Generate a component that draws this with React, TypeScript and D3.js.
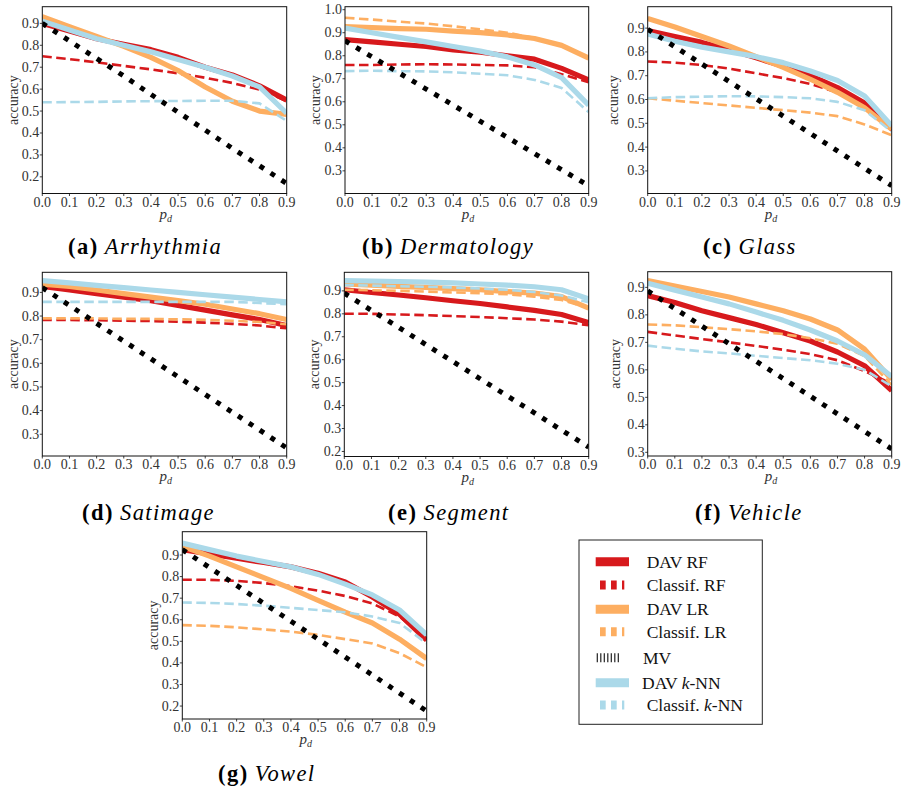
import React from "react";
import * as d3 from "d3";

// ---------- data ----------
const pd = [0, 0.1, 0.2, 0.3, 0.4, 0.5, 0.6, 0.7, 0.8, 0.9];

const arrDavRF = [0.9, 0.865, 0.83, 0.805, 0.78, 0.745, 0.7, 0.665, 0.615, 0.55];
const arrClsRF = [0.75, 0.737, 0.722, 0.706, 0.69, 0.672, 0.652, 0.628, 0.598, 0.545];
const arrDavLR = [0.93, 0.885, 0.84, 0.795, 0.745, 0.685, 0.61, 0.545, 0.5, 0.485];
const arrDavKNN = [0.91, 0.87, 0.83, 0.8, 0.77, 0.735, 0.7, 0.66, 0.61, 0.49];
const arrClsKNN = [0.54, 0.541, 0.542, 0.544, 0.545, 0.546, 0.547, 0.547, 0.535, 0.455];
const arrMV = [0.9, 0.82, 0.74, 0.66, 0.576, 0.495, 0.413, 0.33, 0.25, 0.17];

const derDavRF = [0.87, 0.86, 0.85, 0.84, 0.825, 0.815, 0.8, 0.785, 0.745, 0.695];
const derClsRF = [0.76, 0.76, 0.762, 0.763, 0.762, 0.76, 0.758, 0.75, 0.72, 0.685];
const derDavLR = [0.927, 0.922, 0.918, 0.915, 0.907, 0.9, 0.89, 0.875, 0.845, 0.79];
const derClsLR = [0.965, 0.957, 0.948, 0.94, 0.928, 0.915, 0.9, 0.877, 0.845, 0.79];
const derDavKNN = [0.92, 0.9, 0.88, 0.86, 0.84, 0.82, 0.795, 0.76, 0.705, 0.585];
const derClsKNN = [0.733, 0.735, 0.733, 0.732, 0.728, 0.722, 0.715, 0.695, 0.66, 0.555];
const derMV = [0.865, 0.795, 0.725, 0.655, 0.585, 0.515, 0.445, 0.375, 0.305, 0.235];

const glaDavRF = [0.89, 0.865, 0.84, 0.81, 0.775, 0.74, 0.7, 0.65, 0.585, 0.48];
const glaClsRF = [0.76, 0.755, 0.745, 0.73, 0.71, 0.69, 0.665, 0.63, 0.575, 0.47];
const glaDavLR = [0.94, 0.905, 0.865, 0.825, 0.78, 0.735, 0.685, 0.63, 0.565, 0.475];
const glaClsLR = [0.605, 0.595, 0.585, 0.575, 0.565, 0.555, 0.545, 0.53, 0.495, 0.45];
const glaDavKNN = [0.875, 0.845, 0.82, 0.8, 0.78, 0.755, 0.72, 0.68, 0.615, 0.49];
const glaClsKNN = [0.605, 0.61, 0.612, 0.614, 0.613, 0.61, 0.605, 0.59, 0.555, 0.465];
const glaMV = [0.895, 0.822, 0.749, 0.676, 0.603, 0.53, 0.457, 0.384, 0.311, 0.238];

const satDavRF = [0.925, 0.91, 0.895, 0.88, 0.865, 0.845, 0.825, 0.805, 0.785, 0.76];
const satClsRF = [0.783, 0.783, 0.782, 0.78, 0.779, 0.776, 0.772, 0.767, 0.76, 0.748];
const satDavLR = [0.935, 0.925, 0.91, 0.895, 0.88, 0.865, 0.85, 0.83, 0.81, 0.785];
const satClsLR = [0.79, 0.79, 0.79, 0.788, 0.788, 0.786, 0.784, 0.78, 0.775, 0.765];
const satDavKNN = [0.95, 0.94, 0.93, 0.92, 0.91, 0.9, 0.89, 0.88, 0.87, 0.86];
const satClsKNN = [0.86, 0.86, 0.86, 0.86, 0.86, 0.86, 0.86, 0.86, 0.855, 0.85];
const satMV = [0.92, 0.845, 0.769, 0.694, 0.619, 0.543, 0.468, 0.393, 0.318, 0.242];

const segDavRF = [0.905, 0.893, 0.882, 0.87, 0.857, 0.845, 0.83, 0.815, 0.797, 0.762];
const segClsRF = [0.8, 0.8, 0.797, 0.794, 0.79, 0.786, 0.781, 0.775, 0.766, 0.75];
const segDavLR = [0.93, 0.925, 0.92, 0.915, 0.91, 0.905, 0.897, 0.89, 0.875, 0.825];
const segClsLR = [0.905, 0.903, 0.9, 0.897, 0.893, 0.89, 0.885, 0.875, 0.86, 0.825];
const segDavKNN = [0.945, 0.943, 0.941, 0.938, 0.935, 0.93, 0.925, 0.918, 0.905, 0.865];
const segClsKNN = [0.925, 0.923, 0.92, 0.918, 0.915, 0.91, 0.905, 0.895, 0.88, 0.85];
const segMV = [0.89, 0.815, 0.741, 0.666, 0.592, 0.517, 0.442, 0.368, 0.293, 0.219];

const vehDavRF = [0.87, 0.845, 0.815, 0.79, 0.765, 0.735, 0.705, 0.665, 0.615, 0.525];
const vehClsRF = [0.738, 0.725, 0.712, 0.7, 0.687, 0.673, 0.657, 0.635, 0.595, 0.55];
const vehDavLR = [0.925, 0.905, 0.885, 0.865, 0.84, 0.815, 0.785, 0.745, 0.675, 0.565];
const vehClsLR = [0.765, 0.762, 0.755, 0.748, 0.74, 0.73, 0.715, 0.695, 0.65, 0.545];
const vehDavKNN = [0.915, 0.89, 0.865, 0.84, 0.81, 0.78, 0.745, 0.705, 0.655, 0.575];
const vehClsKNN = [0.688, 0.677, 0.667, 0.66, 0.651, 0.643, 0.635, 0.622, 0.6, 0.54];
const vehMV = [0.887, 0.823, 0.759, 0.695, 0.631, 0.568, 0.504, 0.44, 0.376, 0.312];

const vowDavRF = [0.925, 0.905, 0.885, 0.865, 0.845, 0.815, 0.775, 0.705, 0.625, 0.505];
const vowClsRF = [0.785, 0.785, 0.78, 0.77, 0.755, 0.735, 0.71, 0.675, 0.615, 0.51];
const vowDavLR = [0.94, 0.895, 0.845, 0.795, 0.745, 0.69, 0.635, 0.585, 0.51, 0.42];
const vowClsLR = [0.575, 0.572, 0.565, 0.555, 0.545, 0.53, 0.51, 0.49, 0.445, 0.38];
const vowDavKNN = [0.955, 0.925, 0.895, 0.87, 0.845, 0.81, 0.765, 0.715, 0.645, 0.53];
const vowClsKNN = [0.68, 0.678, 0.673, 0.665, 0.655, 0.645, 0.635, 0.615, 0.585, 0.49];
const vowMV = [0.925, 0.842, 0.759, 0.676, 0.593, 0.51, 0.427, 0.344, 0.26, 0.177];

const xTicks = [0, 0.1, 0.2, 0.3, 0.4, 0.5, 0.6, 0.7, 0.8, 0.9];
const legendLabels = ["DAV RF", "Classif. RF", "DAV LR", "Classif. LR", "MV", "DAV k-NN", "Classif. k-NN"];

// ---------- styles ----------
const RED = "#d7191c";
const ORANGE = "#fdae61";
const BLUE = "#abd9e9";
const SERIF = "'Liberation Serif', 'DejaVu Serif', serif";

type Series = { vals: number[] | null; color: string; kind: "dav" | "cls" | "mv" };

const makeSeries = (rf: number[], crf: number[], lr: number[], clr: number[] | null, knn: number[], cknn: number[], mv: number[]): Series[] => [
  { vals: rf, color: RED, kind: "dav" },
  { vals: crf, color: RED, kind: "cls" },
  { vals: lr, color: ORANGE, kind: "dav" },
  { vals: clr, color: ORANGE, kind: "cls" },
  { vals: knn, color: BLUE, kind: "dav" },
  { vals: cknn, color: BLUE, kind: "cls" },
  { vals: mv, color: "#000", kind: "mv" },
];

const panels = [
  { letter: "(a)", name: "Arrhythmia", series: makeSeries(arrDavRF, arrClsRF, arrDavLR, null, arrDavKNN, arrClsKNN, arrMV),
    x0: 42.3, x1: 286.7, y0: 6.7, y1: 193.5, dom: [0.124, 0.976], yt: [0.2, 0.3, 0.4, 0.5, 0.6, 0.7, 0.8, 0.9], lx: 13.5, cx: 68, cy: 254 },
  { letter: "(b)", name: "Dermatology", series: makeSeries(derDavRF, derClsRF, derDavLR, derClsLR, derDavKNN, derClsKNN, derMV),
    x0: 345, x1: 588.7, y0: 6.7, y1: 193.5, dom: [0.2016, 1.013], yt: [0.3, 0.4, 0.5, 0.6, 0.7, 0.8, 0.9, 1.0], lx: 315, cx: 362, cy: 254 },
  { letter: "(c)", name: "Glass", series: makeSeries(glaDavRF, glaClsRF, glaDavLR, glaClsLR, glaDavKNN, glaClsKNN, glaMV),
    x0: 647.7, x1: 891.7, y0: 6.7, y1: 193.5, dom: [0.205, 0.99], yt: [0.3, 0.4, 0.5, 0.6, 0.7, 0.8, 0.9], lx: 613.5, cx: 703, cy: 254 },
  { letter: "(d)", name: "Satimage", series: makeSeries(satDavRF, satClsRF, satDavLR, satClsLR, satDavKNN, satClsKNN, satMV),
    x0: 42.3, x1: 286.7, y0: 272.3, y1: 456, dom: [0.208, 0.985], yt: [0.3, 0.4, 0.5, 0.6, 0.7, 0.8, 0.9], lx: 13.5, cx: 82, cy: 520 },
  { letter: "(e)", name: "Segment", series: makeSeries(segDavRF, segClsRF, segDavLR, segClsLR, segDavKNN, segClsKNN, segMV),
    x0: 344.3, x1: 588.7, y0: 272.3, y1: 456.5, dom: [0.178, 0.981], yt: [0.2, 0.3, 0.4, 0.5, 0.6, 0.7, 0.8, 0.9], lx: 314.5, cx: 388, cy: 520 },
  { letter: "(f)", name: "Vehicle", series: makeSeries(vehDavRF, vehClsRF, vehDavLR, vehClsLR, vehDavKNN, vehClsKNN, vehMV),
    x0: 647.7, x1: 891.7, y0: 271.7, y1: 456, dom: [0.2866, 0.957], yt: [0.3, 0.4, 0.5, 0.6, 0.7, 0.8, 0.9], lx: 615, cx: 695, cy: 520 },
  { letter: "(g)", name: "Vowel", series: makeSeries(vowDavRF, vowClsRF, vowDavLR, vowClsLR, vowDavKNN, vowClsKNN, vowMV),
    x0: 182.3, x1: 426.7, y0: 531.7, y1: 719, dom: [0.14, 1.008], yt: [0.2, 0.3, 0.4, 0.5, 0.6, 0.7, 0.8, 0.9], lx: 153.5, cx: 218, cy: 781 },
];

function Panel({ p, idx }: { p: any; idx: number }) {
  const x = d3.scaleLinear().domain([0, 0.9]).range([p.x0, p.x1]);
  const y = d3.scaleLinear().domain(p.dom).range([p.y1, p.y0]);
  const line = d3.line<number>().x((_, i) => x(pd[i])).y((v) => y(v));
  const fmt = d3.format(".1f");
  const clipId = `clip-${idx}`;
  const cxm = (p.x0 + p.x1) / 2;
  const cym = (p.y0 + p.y1) / 2;
  return (
    <g>
      <defs>
        <clipPath id={clipId}>
          <rect x={p.x0} y={p.y0} width={p.x1 - p.x0} height={p.y1 - p.y0} />
        </clipPath>
      </defs>
      <g clipPath={`url(#${clipId})`}>
        {p.series.map((s: Series, i: number) =>
          s.vals ? (
            <path
              key={i}
              d={line(s.vals) || ""}
              fill="none"
              stroke={s.color}
              strokeWidth={s.kind === "dav" ? 5.2 : s.kind === "cls" ? 2.6 : 5}
              strokeDasharray={s.kind === "cls" ? "9.5,4.5" : s.kind === "mv" ? "5,8" : undefined}
              strokeLinejoin="round"
            />
          ) : null
        )}
      </g>
      <rect x={p.x0} y={p.y0} width={p.x1 - p.x0} height={p.y1 - p.y0} fill="none" stroke="#111" strokeWidth={1} />
      {xTicks.map((t) => (
        <g key={"x" + t}>
          <line x1={x(t)} x2={x(t)} y1={p.y1} y2={p.y1 + 2.5} stroke="#111" strokeWidth={0.8} />
          <text x={x(t)} y={p.y1 + 13} textAnchor="middle" fontFamily={SERIF} fontSize={14} fill="#333">
            {fmt(t)}
          </text>
        </g>
      ))}
      {p.yt.map((t: number) => (
        <g key={"y" + t}>
          <line x1={p.x0 - 2.5} x2={p.x0} y1={y(t)} y2={y(t)} stroke="#111" strokeWidth={0.8} />
          <text x={p.x0 - 3} y={y(t) + 4.5} textAnchor="end" fontFamily={SERIF} fontSize={14} fill="#333">
            {fmt(t)}
          </text>
        </g>
      ))}
      <text
        transform={`translate(${p.lx},${cym}) rotate(-90)`}
        textAnchor="middle"
        dominantBaseline="central"
        fontFamily={SERIF}
        fontSize={14}
        fill="#333"
      >
        accuracy
      </text>
      <text x={cxm - 5} y={p.y1 + 25} fontFamily={SERIF} fontStyle="italic" fontSize={15} fill="#333">
        p
        <tspan fontSize={10} dy={3} fontStyle="italic">d</tspan>
      </text>
      <text x={p.cx} y={p.cy} fontFamily={SERIF} fontSize={22.5} fill="#000">
        <tspan fontWeight="bold" letterSpacing={1.5}>{p.letter}</tspan>
        <tspan dx={6} fontStyle="italic" letterSpacing={1.4}>{p.name}</tspan>
      </text>
    </g>
  );
}

function Legend() {
  const rows = [561.7, 585, 609.3, 631.7, 657.7, 682.7, 705];
  const colors = [RED, RED, ORANGE, ORANGE, "#000", BLUE, BLUE];
  const kinds = ["dav", "cls", "dav", "cls", "mv", "dav", "cls"];
  const textX = [646.7, 646.7, 646.7, 646.7, 643, 642, 646.7];
  return (
    <g>
      <rect x={579} y={540} width={183.3} height={184.3} fill="#fff" stroke="#222" strokeWidth={1} />
      {legendLabels.map((lab, i) => {
        const yy = rows[i];
        const k = kinds[i];
        let handle;
        if (k === "dav") handle = <line x1={595.7} x2={629} y1={yy} y2={yy} stroke={colors[i]} strokeWidth={9} />;
        else if (k === "cls") handle = <line x1={600} x2={624.3} y1={yy} y2={yy} stroke={colors[i]} strokeWidth={9} strokeDasharray="5.7,5.3" />;
        else handle = <line x1={596.7} x2={621} y1={yy} y2={yy} stroke="#222" strokeWidth={9} strokeDasharray="1.2,2.3" />;
        const parts = lab.split("k-NN");
        return (
          <g key={lab}>
            {handle}
            <text x={textX[i]} y={yy + 6} fontFamily={SERIF} fontSize={17.5} fill="#111">
              {parts.length > 1 ? (
                <>
                  {parts[0]}
                  <tspan fontStyle="italic">k</tspan>
                  -NN
                </>
              ) : (
                lab
              )}
            </text>
          </g>
        );
      })}
    </g>
  );
}

export default function App() {
  return (
    <div style={{ position: "absolute", left: 0, top: 0 }}>
      <svg width={903} height={789} style={{ display: "block", background: "#fff" }}>
        {panels.map((p, i) => (
          <Panel key={p.name} p={p} idx={i} />
        ))}
        <Legend />
      </svg>
    </div>
  );
}
